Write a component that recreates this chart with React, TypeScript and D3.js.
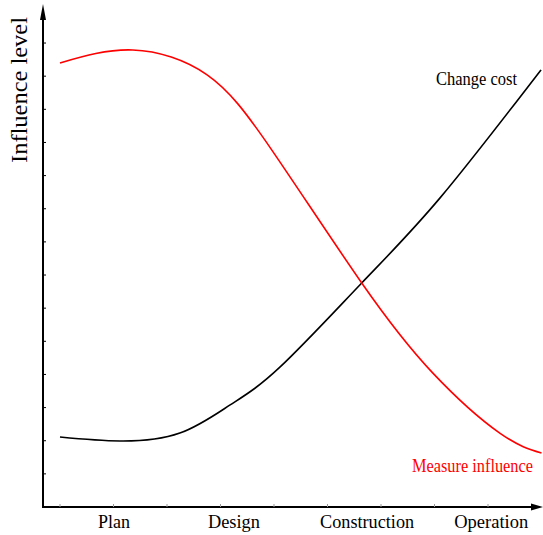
import React, { useEffect, useRef } from 'react';
import * as d3 from 'd3';

// x in phase-tick units (tick k sits at the k-th small mark), y in level units
const costX = [0, 1.12, 2.24, 3.18, 4.11, 5.64, 7.1, 8.99];
const costY = [2.11, 1.99, 2.23, 3.08, 4.22, 6.76, 9.32, 13.19];

const measureX = [0, 1.36, 2.75, 3.96, 5.64, 6.97, 8.22, 9.0];
const measureY = [13.4, 13.79, 13.04, 10.77, 6.76, 4.04, 2.23, 1.63];

const phases = ['Plan', 'Design', 'Construction', 'Operation'];
const phaseAt = [1.01, 3.25, 5.74, 8.06];
const phaseWidths = [32, 52, 94, 74];

const yTicks = d3.range(1, 15);
const xTicks = d3.range(0, 9);

const W = 543;
const H = 535;
const FONT = '"Liberation Serif", "Times New Roman", serif';

export default function App() {
  const svgRef = useRef<SVGSVGElement>(null);

  useEffect(() => {
    if (!svgRef.current) return;
    const svg = d3.select(svgRef.current);
    svg.selectAll('*').remove();

    const axisX = 43;
    const axisY = 507;

    const x = d3.scaleLinear().domain([0, 9]).range([60, 541.5]);
    const y = d3.scaleLinear().domain([0, 15]).range([axisY, 9.9]);

    const line = d3.line<[number, number]>()
      .x(d => x(d[0]))
      .y(d => y(d[1]))
      .curve(d3.curveNatural);

    // curves
    svg.append('path')
      .attr('d', line(costX.map((v, i) => [v, costY[i]] as [number, number])))
      .attr('fill', 'none')
      .attr('stroke', '#000')
      .attr('stroke-width', 1.6);

    svg.append('path')
      .attr('d', line(measureX.map((v, i) => [v, measureY[i]] as [number, number])))
      .attr('fill', 'none')
      .attr('stroke', '#ff0000')
      .attr('stroke-width', 1.6);

    // axes
    svg.append('line')
      .attr('x1', axisX).attr('x2', axisX)
      .attr('y1', axisY + 1).attr('y2', 16)
      .attr('stroke', '#000').attr('stroke-width', 2);
    svg.append('path')
      .attr('d', `M${axisX},4 L${axisX - 3},20 L${axisX + 3},20 Z`)
      .attr('fill', '#000');

    svg.append('line')
      .attr('x1', axisX - 1).attr('x2', 535)
      .attr('y1', axisY).attr('y2', axisY)
      .attr('stroke', '#000').attr('stroke-width', 2);
    svg.append('path')
      .attr('d', `M543,${axisY} L531,${axisY - 3.5} L531,${axisY + 3.5} Z`)
      .attr('fill', '#000');

    svg.append('g').selectAll('line')
      .data(yTicks)
      .enter().append('line')
      .attr('x1', axisX).attr('x2', axisX + 3)
      .attr('y1', d => y(d)).attr('y2', d => y(d))
      .attr('stroke', '#000').attr('stroke-width', 1);

    svg.append('g').selectAll('line')
      .data(xTicks)
      .enter().append('line')
      .attr('x1', d => x(d)).attr('x2', d => x(d))
      .attr('y1', axisY).attr('y2', axisY - 3)
      .attr('stroke', '#999').attr('stroke-width', 1);

    // phase labels
    svg.append('g').selectAll('text')
      .data(phases)
      .enter().append('text')
      .attr('x', (d, i) => x(phaseAt[i]))
      .attr('y', 528)
      .attr('text-anchor', 'middle')
      .attr('textLength', (d, i) => phaseWidths[i])
      .attr('lengthAdjust', 'spacingAndGlyphs')
      .style('font-family', FONT)
      .style('font-size', '19px')
      .text(d => d);

    // y label
    svg.append('text')
      .attr('transform', 'translate(27,90) rotate(-90)')
      .attr('text-anchor', 'middle')
      .attr('textLength', 146)
      .attr('lengthAdjust', 'spacingAndGlyphs')
      .style('font-family', FONT)
      .style('font-size', '23px')
      .text('Influence level');

    // series labels
    svg.append('text')
      .attr('x', 436).attr('y', 85)
      .attr('textLength', 81)
      .attr('lengthAdjust', 'spacingAndGlyphs')
      .style('font-family', FONT)
      .style('font-size', '18px')
      .attr('fill', '#000')
      .text('Change cost');

    svg.append('text')
      .attr('x', 412).attr('y', 472)
      .attr('textLength', 121)
      .attr('lengthAdjust', 'spacingAndGlyphs')
      .style('font-family', FONT)
      .style('font-size', '18px')
      .attr('fill', '#ff0000')
      .text('Measure influence');
  }, []);

  return (
    <div style={{ position: 'absolute', left: 0, top: 0 }}>
      <svg ref={svgRef} width={W} height={H} style={{ display: 'block', background: '#fff' }}></svg>
    </div>
  );
}
